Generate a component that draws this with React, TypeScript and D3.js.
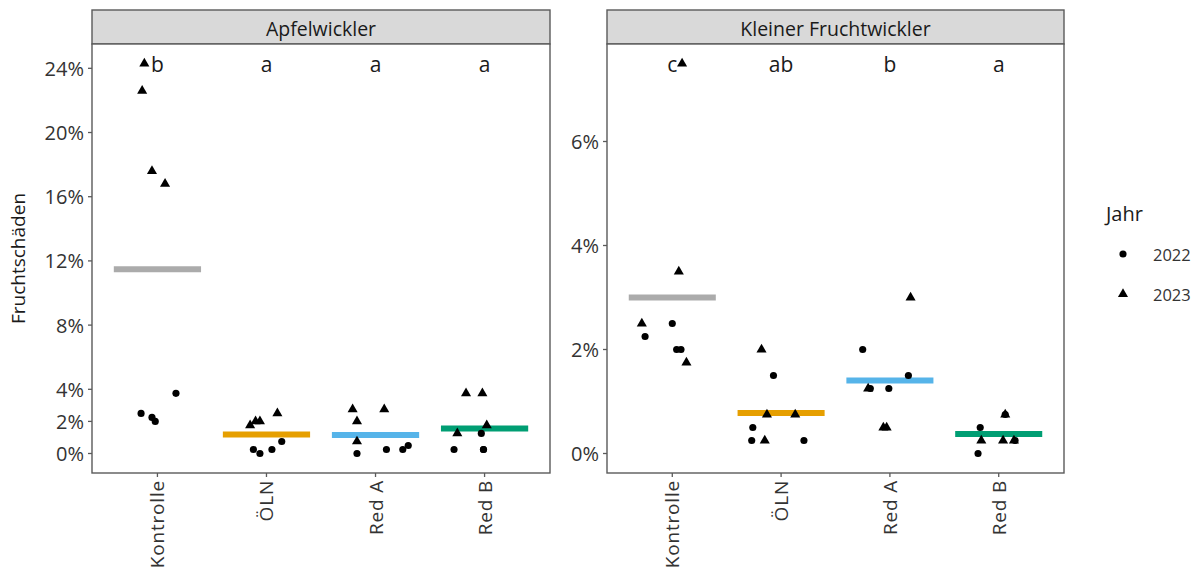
import React from "react";
import * as d3 from "d3";

// treatments and significance letters
const treatments = ["Kontrolle", "ÖLN", "Red A", "Red B"];
const lettersApfel = ["b", "a", "a", "a"];
const lettersKlein = ["c", "ab", "b", "a"];
const ticksApfel = [0, 2, 4, 8, 12, 16, 20, 24];
const ticksKlein = [0, 2, 4, 6];
const years = ["2022", "2023"];

// fruit damage in %, j = horizontal jitter as a share of the category step
const apfel2022 = [
  { t: "Kontrolle", v: 2.5, j: -0.15 }, { t: "Kontrolle", v: 2.25, j: -0.05 },
  { t: "Kontrolle", v: 2.0, j: -0.02 }, { t: "Kontrolle", v: 3.75, j: 0.17 },
  { t: "ÖLN", v: 0.25, j: -0.12 }, { t: "ÖLN", v: 0, j: -0.06 },
  { t: "ÖLN", v: 0.25, j: 0.05 }, { t: "ÖLN", v: 0.75, j: 0.14 },
  { t: "Red A", v: 0, j: -0.17 }, { t: "Red A", v: 0.25, j: 0.1 },
  { t: "Red A", v: 0.25, j: 0.25 }, { t: "Red A", v: 0.5, j: 0.3 },
  { t: "Red B", v: 0.25, j: -0.28 }, { t: "Red B", v: 1.25, j: -0.03 },
  { t: "Red B", v: 0.25, j: -0.01 }, { t: "Red B", v: 0.25, j: -0.01 },
];
const apfel2023 = [
  { t: "Kontrolle", v: 24.3, j: -0.12 }, { t: "Kontrolle", v: 22.6, j: -0.14 },
  { t: "Kontrolle", v: 17.6, j: -0.05 }, { t: "Kontrolle", v: 16.8, j: 0.07 },
  { t: "ÖLN", v: 1.75, j: -0.15 }, { t: "ÖLN", v: 2.0, j: -0.1 },
  { t: "ÖLN", v: 2.0, j: -0.06 }, { t: "ÖLN", v: 2.5, j: 0.1 },
  { t: "Red A", v: 2.75, j: -0.21 }, { t: "Red A", v: 2.0, j: -0.17 },
  { t: "Red A", v: 0.75, j: -0.17 }, { t: "Red A", v: 2.75, j: 0.08 },
  { t: "Red B", v: 3.75, j: -0.17 }, { t: "Red B", v: 3.75, j: -0.02 },
  { t: "Red B", v: 1.75, j: 0.02 }, { t: "Red B", v: 1.25, j: -0.25 },
];
const klein2022 = [
  { t: "Kontrolle", v: 2.25, j: -0.25 }, { t: "Kontrolle", v: 2.5, j: 0 },
  { t: "Kontrolle", v: 2.0, j: 0.04 }, { t: "Kontrolle", v: 2.0, j: 0.08 },
  { t: "ÖLN", v: 1.5, j: -0.07 }, { t: "ÖLN", v: 0.5, j: -0.26 },
  { t: "ÖLN", v: 0.25, j: -0.27 }, { t: "ÖLN", v: 0.25, j: 0.21 },
  { t: "Red A", v: 2.0, j: -0.25 }, { t: "Red A", v: 1.5, j: 0.17 },
  { t: "Red A", v: 1.25, j: -0.18 }, { t: "Red A", v: 1.25, j: -0.01 },
  { t: "Red B", v: 0.75, j: 0.06 }, { t: "Red B", v: 0.5, j: -0.17 },
  { t: "Red B", v: 0.25, j: 0.15 }, { t: "Red B", v: 0, j: -0.19 },
];
const klein2023 = [
  { t: "Kontrolle", v: 7.5, j: 0.09 }, { t: "Kontrolle", v: 3.5, j: 0.06 },
  { t: "Kontrolle", v: 2.5, j: -0.28 }, { t: "Kontrolle", v: 1.75, j: 0.13 },
  { t: "ÖLN", v: 2.0, j: -0.18 }, { t: "ÖLN", v: 0.75, j: -0.13 },
  { t: "ÖLN", v: 0.75, j: 0.13 }, { t: "ÖLN", v: 0.25, j: -0.15 },
  { t: "Red A", v: 3.0, j: 0.19 }, { t: "Red A", v: 1.25, j: -0.2 },
  { t: "Red A", v: 0.5, j: -0.06 }, { t: "Red A", v: 0.5, j: -0.03 },
  { t: "Red B", v: 0.75, j: 0.06 }, { t: "Red B", v: 0.25, j: -0.16 },
  { t: "Red B", v: 0.25, j: 0.04 }, { t: "Red B", v: 0.25, j: 0.14 },
];

const barColors = ["#ABABAB", "#E69F00", "#56B4E9", "#009E73"];
const font = "'Open Sans', 'Noto Sans', sans-serif";
const textCol = "#333333";
const borderCol = "#5a5a5a";

const W = 1199;
const H = 574;
const top = 44;
const bottom = 473;
const stripTop = 10;

const circlePath = d3.symbol(d3.symbolCircle, 40)()!;
const trianglePath = d3.symbol(d3.symbolTriangle, 44)()!;

type Pt = { t: string; v: number; j: number };

function Panel({ x0, x1, title, p2022, p2023, ticks, letters }: {
  x0: number; x1: number; title: string; p2022: Pt[]; p2023: Pt[]; ticks: number[]; letters: string[];
}) {
  const all = [...p2022, ...p2023];
  const [lo, hi] = d3.extent(all, (d) => d.v) as [number, number];
  const pad = (hi - lo) * 0.05;
  const y = d3.scaleLinear().domain([lo - pad, hi + pad]).range([bottom, top]);
  const x = d3.scalePoint<string>().domain(treatments).range([x0, x1]).padding(0.6);
  const step = x.step();
  const means = treatments.map((t) => d3.mean(all.filter((d) => d.t === t), (d) => d.v) as number);

  return (
    <g>
      {/* strip */}
      <rect x={x0} y={stripTop} width={x1 - x0} height={top - stripTop} fill="#D9D9D9" stroke={borderCol} strokeWidth={1.4} />
      <text x={(x0 + x1) / 2} y={(stripTop + top) / 2 + 1} textAnchor="middle" dominantBaseline="central"
        fontSize={19.5} fill="#1a1a1a" fontFamily={font}>{title}</text>
      {/* panel */}
      <rect x={x0} y={top} width={x1 - x0} height={bottom - top} fill="white" stroke={borderCol} strokeWidth={1.4} />
      {/* y axis */}
      {ticks.map((t) => (
        <g key={t} transform={`translate(${x0},${y(t)})`}>
          <line x1={-4} x2={0} stroke={borderCol} strokeWidth={1.3} />
          <text x={-8} textAnchor="end" dominantBaseline="central" fontSize={20} fill={textCol} fontFamily={font}>
            {d3.format(".0%")(t / 100)}
          </text>
        </g>
      ))}
      {/* x axis */}
      {treatments.map((t) => (
        <g key={t}>
          <line x1={x(t)} x2={x(t)} y1={bottom} y2={bottom + 4} stroke={borderCol} strokeWidth={1.3} />
          <text transform={`translate(${x(t)},${bottom + 7}) rotate(-90)`} textAnchor="end" dominantBaseline="central"
            fontSize={19} letterSpacing={0.8} fill={textCol} fontFamily={font}>{t}</text>
        </g>
      ))}
      {/* means */}
      {treatments.map((t, i) => (
        <line key={t} x1={x(t)! - 0.4 * step} x2={x(t)! + 0.4 * step} y1={y(means[i])} y2={y(means[i])}
          stroke={barColors[i]} strokeWidth={6} />
      ))}
      {/* points */}
      {p2022.map((d, i) => (
        <path key={"a" + i} d={circlePath} transform={`translate(${x(d.t)! + d.j * step},${y(d.v)})`} fill="black" />
      ))}
      {p2023.map((d, i) => (
        <path key={"b" + i} d={trianglePath} transform={`translate(${x(d.t)! + d.j * step},${y(d.v)})`} fill="black" />
      ))}
      {/* letters */}
      {treatments.map((t, i) => (
        <text key={t} x={x(t)} y={y(hi)} textAnchor="middle" dominantBaseline="central" fontSize={21}
          fill="#1a1a1a" fontFamily={font}>{letters[i]}</text>
      ))}
    </g>
  );
}

export default function App() {
  return (
    <svg width={W} height={H} style={{ position: "absolute", left: 0, top: 0, background: "white" }}>
      <Panel x0={92} x1={550} title="Apfelwickler" p2022={apfel2022} p2023={apfel2023} ticks={ticksApfel} letters={lettersApfel} />
      <Panel x0={607} x1={1064} title="Kleiner Fruchtwickler" p2022={klein2022} p2023={klein2023} ticks={ticksKlein} letters={lettersKlein} />
      <text transform={`translate(18,${(top + bottom) / 2}) rotate(-90)`} textAnchor="middle" dominantBaseline="central"
        fontSize={19} fill="#1a1a1a" fontFamily={font}>Fruchtschäden</text>
      {/* legend */}
      <text x={1106} y={213} dominantBaseline="central" fontSize={20} fill="#1a1a1a" fontFamily={font}>Jahr</text>
      {years.map((yr, i) => (
        <g key={yr} transform={`translate(1123,${254 + i * 40})`}>
          <path d={i === 0 ? circlePath : trianglePath} fill="black" />
          <text x={30} dominantBaseline="central" fontSize={16.5} fill={textCol} fontFamily={font}>{yr}</text>
        </g>
      ))}
    </svg>
  );
}
